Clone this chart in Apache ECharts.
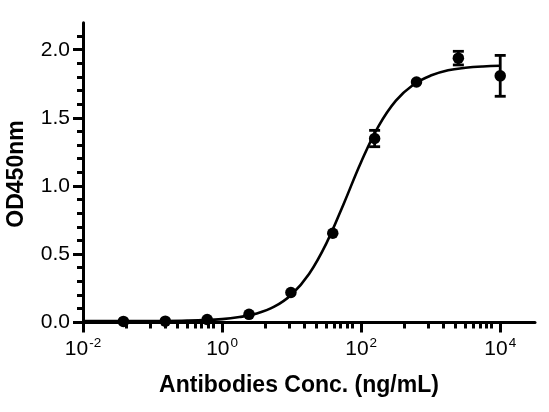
<!DOCTYPE html>
<html><head><meta charset="utf-8">
<script src="https://cdn.jsdelivr.net/npm/echarts@6/dist/echarts.min.js"></script>
<style>html,body{margin:0;padding:0;background:#fff}#c{width:549px;height:412px}</style>
</head><body><div id="c"></div>
<script>
// Measured points (4-fold dilution series, ng/mL)
const concentrations = [0.0381, 0.1526, 0.6104, 2.441, 9.766, 39.06, 156.25, 625, 2500, 10000];
const odMeans = [0.008, 0.01, 0.022, 0.06, 0.22, 0.655, 1.35, 1.765, 1.94, 1.81];
const odErrors = [0, 0, 0, 0, 0, 0, 0.06, 0, 0.05, 0.15];
// Fitted curve
const curveConc = [0.01, 0.0316, 0.1, 0.316, 1, 1.78, 3.16, 5.62, 10, 17.8, 31.6, 56.2, 100, 178, 316, 562, 1000, 1780, 3160, 5620, 10000];
const curveOD = [0.010, 0.010, 0.011, 0.014, 0.025, 0.040, 0.066, 0.116, 0.206, 0.356, 0.581, 0.872, 1.178, 1.441, 1.628, 1.745, 1.812, 1.851, 1.869, 1.879, 1.884];
// Axis ticks
const xMajorExponents = [-2, 0, 2, 4];
const xMinorMultipliers = [4.2, 9.3, 15.5, 23, 31.6, 41.7, 51.3, 63, 76];
const yMajorTicks = [0, 0.5, 1.0, 1.5, 2.0];
const yMinorTicks = [0.1, 0.2, 0.3, 0.4, 0.6, 0.7, 0.8, 0.9, 1.1, 1.2, 1.3, 1.4, 1.6, 1.7, 1.8, 1.9, 2.1];
const xTitle = 'Antibodies Conc. (ng/mL)';
const yTitle = 'OD450nm';

const X_MIN = -2, X_MAX = 4.5, Y_MIN = 0, Y_MAX = 2.2;
const FONT = '"Liberation Sans", Arial, Helvetica, sans-serif';

const lg = v => Math.log10(v);
const snap = v => Math.round(v - 0.5) + 0.5;
const xTickData = [];
xMajorExponents.forEach(e => xTickData.push([e, 0, 10]));
xMajorExponents.slice(0, -1).forEach(e => xMinorMultipliers.forEach(m => xTickData.push([lg(m * Math.pow(10, e)), 0, 6])));
const yTickData = [];
yMajorTicks.forEach(v => yTickData.push([X_MIN, v, 10]));
yMinorTicks.forEach(v => yTickData.push([X_MIN, v, 6]));

const errData = [];
concentrations.forEach((c, i) => { if (odErrors[i] > 0) errData.push([lg(c), odMeans[i] - odErrors[i], odMeans[i] + odErrors[i]]); });

const chart = echarts.init(document.getElementById('c'), null, {renderer: 'canvas'});
chart.setOption({
  animation: false,
  backgroundColor: '#fff',
  grid: {left: 83, right: 14, top: 22.7, bottom: 89.5, containLabel: false},
  xAxis: {
    type: 'value', min: X_MIN, max: X_MAX, interval: 2,
    axisLine: {show: true, onZero: false, lineStyle: {color: '#000', width: 3}},
    axisTick: {show: false}, splitLine: {show: false},
    axisLabel: {
      margin: 14, showMaxLabel: false, color: '#000',
      formatter: v => (Math.abs(v - Math.round(v)) < 1e-6 && xMajorExponents.includes(Math.round(v))) ? '{b|10}{s|' + Math.round(v) + '}' : '',
      rich: {
        b: {fontFamily: FONT, fontSize: 21, color: '#000', lineHeight: 23, verticalAlign: 'bottom'},
        s: {fontFamily: FONT, fontSize: 13.5, color: '#000', lineHeight: 23, verticalAlign: 'top', padding: [0, 0, 0, 1]}
      }
    }
  },
  yAxis: {
    type: 'value', min: Y_MIN, max: Y_MAX, interval: 0.5,
    axisLine: {show: true, onZero: false, lineStyle: {color: '#000', width: 3}},
    axisTick: {show: false}, splitLine: {show: false},
    axisLabel: {
      margin: 13, color: '#000', fontFamily: FONT, fontSize: 21,
      formatter: v => v > 2.05 ? '' : v.toFixed(1)
    }
  },
  graphic: [
    {type: 'text', style: {text: xTitle, x: 299, y: 386, textAlign: 'center', textVerticalAlign: 'middle', font: 'bold 23px ' + FONT, fill: '#000'}},
    {type: 'text', rotation: Math.PI / 2, x: 17, y: 174, style: {text: yTitle, x: 0, y: 0, textAlign: 'center', textVerticalAlign: 'middle', font: 'bold 23px ' + FONT, fill: '#000'}}
  ],
  series: [
    {
      type: 'custom', clip: false, silent: true, z: 5,
      data: xTickData, encode: {x: 0, y: 1},
      renderItem: (params, api) => {
        const p = api.coord([api.value(0), api.value(1)]);
        const len = api.value(2);
        const x = snap(p[0]);
        return {type: 'line', shape: {x1: x, y1: p[1], x2: x, y2: p[1] + len}, style: {stroke: '#000', lineWidth: 3}};
      }
    },
    {
      type: 'custom', clip: false, silent: true, z: 5,
      data: yTickData, encode: {x: 0, y: 1},
      renderItem: (params, api) => {
        const p = api.coord([api.value(0), api.value(1)]);
        const len = api.value(2);
        const y = snap(p[1]);
        return {type: 'line', shape: {x1: p[0], y1: y, x2: p[0] - len, y2: y}, style: {stroke: '#000', lineWidth: 3}};
      }
    },
    {
      type: 'line', data: curveConc.map((c, i) => [lg(c), curveOD[i]]),
      showSymbol: false, smooth: 0.4, clip: false, z: 3,
      lineStyle: {color: '#000', width: 2.6}
    },
    {
      type: 'custom', clip: false, z: 4,
      data: errData, encode: {x: 0, y: [1, 2]},
      renderItem: (params, api) => {
        const x = api.value(0);
        const lo = api.coord([x, api.value(1)]), hi = api.coord([x, api.value(2)]);
        const w = 5.5, st = {stroke: '#000', lineWidth: 2.8};
        return {type: 'group', children: [
          {type: 'line', shape: {x1: lo[0], y1: lo[1], x2: hi[0], y2: hi[1]}, style: st},
          {type: 'line', shape: {x1: lo[0] - w, y1: lo[1], x2: lo[0] + w, y2: lo[1]}, style: st},
          {type: 'line', shape: {x1: hi[0] - w, y1: hi[1], x2: hi[0] + w, y2: hi[1]}, style: st}
        ]};
      }
    },
    {
      type: 'scatter', data: concentrations.map((c, i) => [lg(c), odMeans[i]]),
      symbol: 'circle', symbolSize: 11.5, clip: false, z: 6,
      itemStyle: {color: '#000', opacity: 1}
    }
  ]
});
</script></body></html>
